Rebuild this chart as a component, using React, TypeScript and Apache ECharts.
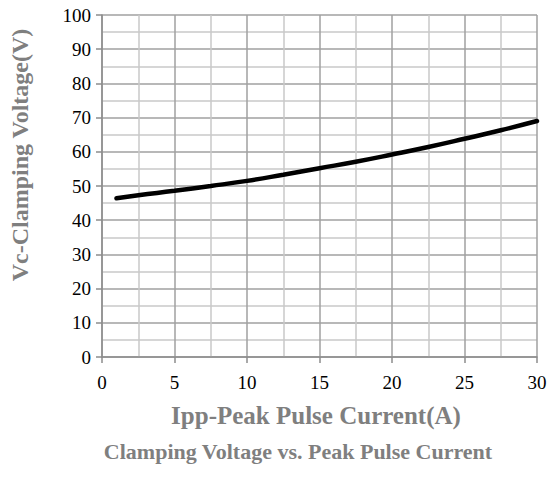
import React, { useEffect, useRef } from "react";
import * as echarts from "echarts";

const currents = [1, 2.5, 5, 7.5, 10, 12.5, 15, 17.5, 20, 22.5, 25, 27.5, 30];
const voltages = [46.4, 47.3, 48.6, 50.0, 51.5, 53.3, 55.2, 57.1, 59.2, 61.4, 63.8, 66.3, 69.0];

const xAxisName = "Ipp-Peak Pulse Current(A)";
const yAxisName = "Vc-Clamping Voltage(V)";
const chartTitle = "Clamping Voltage vs. Peak Pulse Current";

const FONT = "Liberation Serif";
const GREY = "#7f7f7f";

export default function App() {
  const ref = useRef<HTMLDivElement>(null);
  useEffect(() => {
    if (!ref.current) return;
    const chart = echarts.init(ref.current, null, { renderer: "svg" });
    chart.setOption({
      animation: false,
      backgroundColor: "#ffffff",
      grid: { left: 102, right: 20, top: 15, bottom: 121, containLabel: false },
      xAxis: {
        type: "value",
        min: 0,
        max: 30,
        interval: 5,
        axisLine: { show: true, lineStyle: { color: "#8c8c8c", width: 1.5 } },
        axisTick: { show: true, inside: false, length: 6, lineStyle: { color: "#8c8c8c", width: 1.5 } },
        axisLabel: {
          show: true,
          color: "#000000",
          fontFamily: FONT,
          fontSize: 19,
          margin: 16,
        },
        splitLine: { show: true, lineStyle: { color: "#a0a0a0", width: 1.5 } },
        minorTick: { show: false, splitNumber: 2 },
        minorSplitLine: { show: true, lineStyle: { color: "#c8c8c8", width: 1.5 } },
      },
      yAxis: {
        type: "value",
        min: 0,
        max: 100,
        interval: 10,
        axisLine: { show: true, lineStyle: { color: "#8c8c8c", width: 1.5 } },
        axisTick: { show: true, inside: false, length: 6, lineStyle: { color: "#8c8c8c", width: 1.5 } },
        axisLabel: {
          show: true,
          color: "#000000",
          fontFamily: FONT,
          fontSize: 19,
          margin: 11,
        },
        splitLine: { show: true, lineStyle: { color: "#a0a0a0", width: 1.5 } },
        minorTick: { show: false, splitNumber: 2 },
        minorSplitLine: { show: true, lineStyle: { color: "#c8c8c8", width: 1.5 } },
      },
      graphic: [
        {
          type: "text",
          x: 316,
          y: 415,
          style: {
            text: xAxisName,
            fontFamily: FONT,
            fontWeight: "bold",
            fontSize: 25,
            fill: GREY,
            align: "center",
            verticalAlign: "middle",
          },
        },
        {
          type: "text",
          x: 298,
          y: 451,
          style: {
            text: chartTitle,
            fontFamily: FONT,
            fontWeight: "bold",
            fontSize: 22,
            fill: GREY,
            align: "center",
            verticalAlign: "middle",
          },
        },
        {
          type: "text",
          x: 20,
          y: 155,
          rotation: Math.PI / 2,
          style: {
            text: yAxisName,
            fontFamily: FONT,
            fontWeight: "bold",
            fontSize: 24,
            fill: GREY,
            align: "center",
            verticalAlign: "middle",
          },
        },
      ],
      series: [
        {
          type: "line",
          data: currents.map((c, i) => [c, voltages[i]]),
          smooth: true,
          showSymbol: false,
          lineStyle: { color: "#000", width: 4.5, cap: "round" },
        },
      ],
    });
    return () => chart.dispose();
  }, []);
  return <div ref={ref} style={{ width: 557, height: 478, position: "absolute", left: 0, top: 0 }} />;
}
